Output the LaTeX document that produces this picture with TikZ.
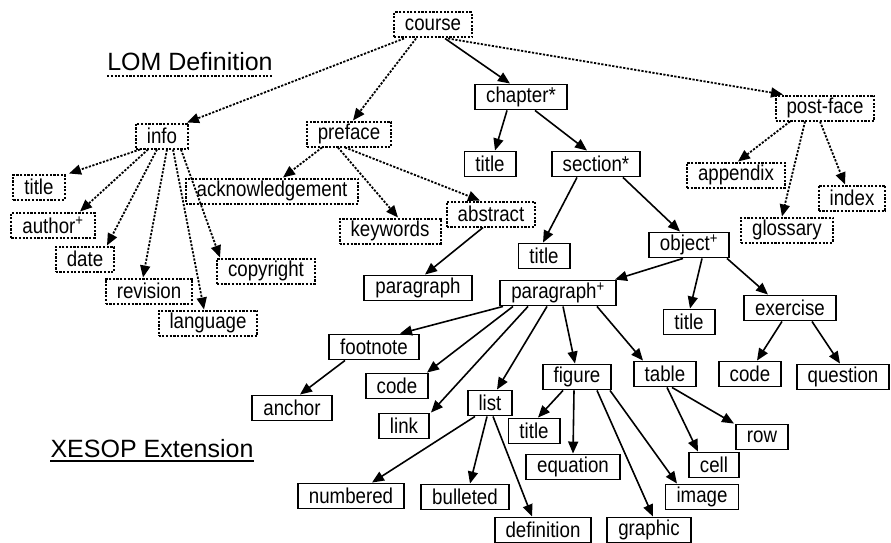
\documentclass[tikz,border=0pt]{standalone}
\usepackage{fontspec}
\setmainfont{Liberation Sans}
\newfontfamily\elemfont[FakeStretch=0.87]{Liberation Sans}
\usetikzlibrary{arrows.meta}

\begin{document}
\begin{tikzpicture}[
        x=1pt, y=-1pt,
        elem/.style={
            rectangle,
            draw=black,
            fill=white,
            line width=1.9pt,
            minimum height=25pt,
            inner xsep=11pt,
            inner ysep=0pt,
            font=\elemfont\fontsize{21.5}{23}\selectfont
        },
        lomelem/.style={
            elem,
            line width=2pt,
            dash pattern=on 2.2pt off 1.5pt
        },
        rel/.style={
            line width=1.6pt,
            -{Triangle[length=12pt,width=10pt]}
        },
        lomrel/.style={
            rel,
            line width=1.8pt,
            dash pattern=on 2.2pt off 1.5pt
        },
        heading/.style={
            inner sep=0pt,
            font=\fontsize{25}{28}\selectfont
        }
    ]

    \useasboundingbox (0,0) rectangle (891,543);

    % Títulos
    \node[heading] (lom) at (190,62) {LOM Definition};
    \node[heading] (xesop) at (152,449) {XESOP Extension};
    \draw[line width=1.6pt, dash pattern=on 2.2pt off 1.5pt]
        ([yshift=-5pt]lom.base west) -- ([yshift=-5pt]lom.base east);
    \draw[line width=1.9pt]
        ([yshift=-3pt]xesop.base west) -- ([yshift=-3pt]xesop.base east);

    % Elementos LOM
    \node[lomelem] (course) at (433,25) {course};
    \node[lomelem] (info) at (162,136) {info};
    \node[lomelem] (preface) at (349,134) {preface};
    \node[lomelem] (postface) at (825,108) {post-face};

    \node[lomelem] (infotitle) at (39,187) {title};
    \node[lomelem] (author) at (53,225) {author\textsuperscript{+}};
    \node[lomelem] (date) at (85,259) {date};
    \node[lomelem] (revision) at (149,291) {revision};
    \node[lomelem] (language) at (208,323) {language};
    \node[lomelem] (copyright) at (266,271) {copyright};

    \node[lomelem] (ack) at (272,191) {acknowledgement};
    \node[lomelem] (keywords) at (390,231) {keywords};
    \node[lomelem] (abstract) at (491,214) {abstract};

    \node[lomelem] (appendix) at (736,175) {appendix};
    \node[lomelem] (index) at (852,198) {index};
    \node[lomelem] (glossary) at (787,230) {glossary};

    % Elementos XESOP
    \node[elem] (chapter) at (521,97) {chapter*};
    \node[elem] (chaptitle) at (490,164) {title};
    \node[elem] (section) at (596,164) {section*};
    \node[elem] (sectitle) at (544,256) {title};
    \node[elem] (abspara) at (418,288) {paragraph};
    \node[elem] (object) at (689,245) {object\textsuperscript{+}};
    \node[elem] (para) at (558,293) {paragraph\textsuperscript{+}};
    \node[elem] (objtitle) at (689,322) {title};
    \node[elem] (exercise) at (790,308) {exercise};
    \node[elem] (excode) at (750,374) {code};
    \node[elem] (question) at (843,377) {question};

    \node[elem] (footnote) at (374,347) {footnote};
    \node[elem] (anchor) at (292,408) {anchor};
    \node[elem] (code) at (397,386) {code};
    \node[elem] (link) at (404,426) {link};
    \node[elem] (list) at (490,403) {list};
    \node[elem] (figure) at (577,377) {figure};
    \node[elem] (table) at (665,374) {table};

    \node[elem] (numbered) at (351,496) {numbered};
    \node[elem] (bulleted) at (465,497) {bulleted};
    \node[elem] (definition) at (543,530) {definition};
    \node[elem] (figtitle) at (534,431) {title};
    \node[elem] (equation) at (573,467) {equation};
    \node[elem] (graphic) at (649,530) {graphic};
    \node[elem] (image) at (702,497) {image};
    \node[elem] (row) at (762,437) {row};
    \node[elem] (cell) at (714,465) {cell};

    % Relaciones LOM
    \draw[lomrel] ([xshift=-29pt]course.south) -- ([xshift=25pt]info.north);
    \draw[lomrel] ([xshift=-17pt]course.south) -- ([xshift=4pt]preface.north);
    \draw[lomrel] ([xshift=15pt]course.south) -- ([xshift=-42pt]postface.north);

    \draw[lomrel] ([xshift=-22pt]info.south) -- ([xshift=30pt]infotitle.north);
    \draw[lomrel] ([xshift=-14pt]info.south) -- ([xshift=27pt]author.north);
    \draw[lomrel] ([xshift=-5pt]info.south) -- ([xshift=22pt]date.north);
    \draw[lomrel] ([xshift=5pt]info.south) -- ([xshift=-6pt]revision.north);
    \draw[lomrel] ([xshift=11pt]info.south) -- ([xshift=-4pt]language.north);
    \draw[lomrel] ([xshift=19pt]info.south) -- ([xshift=-46pt]copyright.north);

    \draw[lomrel] ([xshift=-27pt]preface.south) -- ([xshift=11pt]ack.north);
    \draw[lomrel] ([xshift=-11pt]preface.south) -- ([xshift=8pt]keywords.north);
    \draw[lomrel] ([xshift=-4pt]preface.south) -- ([xshift=-11pt]abstract.north);

    \draw[lomrel] ([xshift=-35pt]postface.south) -- ([xshift=2pt]appendix.north);
    \draw[lomrel] ([xshift=-20pt]postface.south) -- ([xshift=-5pt]glossary.north);
    \draw[lomrel] ([xshift=-5pt]postface.south) -- ([xshift=-7pt]index.north);

    % Relaciones XESOP
    \draw[rel] ([xshift=12pt]course.south) -- ([xshift=-11pt]chapter.north);
    \draw[rel] ([xshift=-8pt]abstract.south) -- ([xshift=7pt]abspara.north);

    \draw[rel] ([xshift=-14pt]chapter.south) -- ([xshift=5pt]chaptitle.north);
    \draw[rel] ([xshift=14pt]chapter.south) -- ([xshift=-9pt]section.north);
    \draw[rel] ([xshift=-19pt]section.south) -- ([xshift=-1pt]sectitle.north);
    \draw[rel] ([xshift=27pt]section.south) -- ([xshift=-9pt]object.north);

    \draw[rel] ([xshift=-6pt]object.south) -- ([xshift=57pt]para.north);
    \draw[rel] ([xshift=13pt]object.south) -- ([xshift=1pt]objtitle.north);
    \draw[rel] ([xshift=38pt]object.south) -- ([xshift=-22pt]exercise.north);
    \draw[rel] ([xshift=-8pt]exercise.south) -- ([xshift=7pt]excode.north);
    \draw[rel] ([xshift=22pt]exercise.south) -- ([xshift=-3pt]question.north);

    \draw[rel] ([xshift=-55pt]para.south) -- ([xshift=26pt]footnote.north);
    \draw[rel] ([xshift=-45pt]para.south) -- ([xshift=30pt]code.north);
    \draw[rel] ([xshift=-30pt]para.south) -- ([xshift=27pt]link.north);
    \draw[rel] ([xshift=-11pt]para.south) -- ([xshift=7pt]list.north);
    \draw[rel] ([xshift=5pt]para.south) -- ([xshift=-2pt]figure.north);
    \draw[rel] ([xshift=39pt]para.south) -- ([xshift=-22pt]table.north);

    \draw[rel] ([xshift=-29pt]footnote.south) -- ([xshift=8pt]anchor.north);

    \draw[rel] ([xshift=-15pt]list.south) -- ([xshift=21pt]numbered.north);
    \draw[rel] ([xshift=-3pt]list.south) -- ([xshift=5pt]bulleted.north);
    \draw[rel] ([xshift=3pt]list.south) -- ([xshift=-11pt]definition.north);

    \draw[rel] ([xshift=-14pt]figure.south) -- ([xshift=4pt]figtitle.north);
    \draw[rel] ([xshift=-3pt]figure.south) -- (equation.north);
    \draw[rel] ([xshift=20pt]figure.south) -- ([xshift=4pt]graphic.north);
    \draw[rel] ([xshift=33pt]figure.south) -- ([xshift=-25pt]image.north);

    \draw[rel] ([xshift=2pt]table.south) -- ([xshift=-16pt]cell.north);
    \draw[rel] ([xshift=7pt]table.south) -- ([xshift=-28pt]row.north);

\end{tikzpicture}
\end{document}
